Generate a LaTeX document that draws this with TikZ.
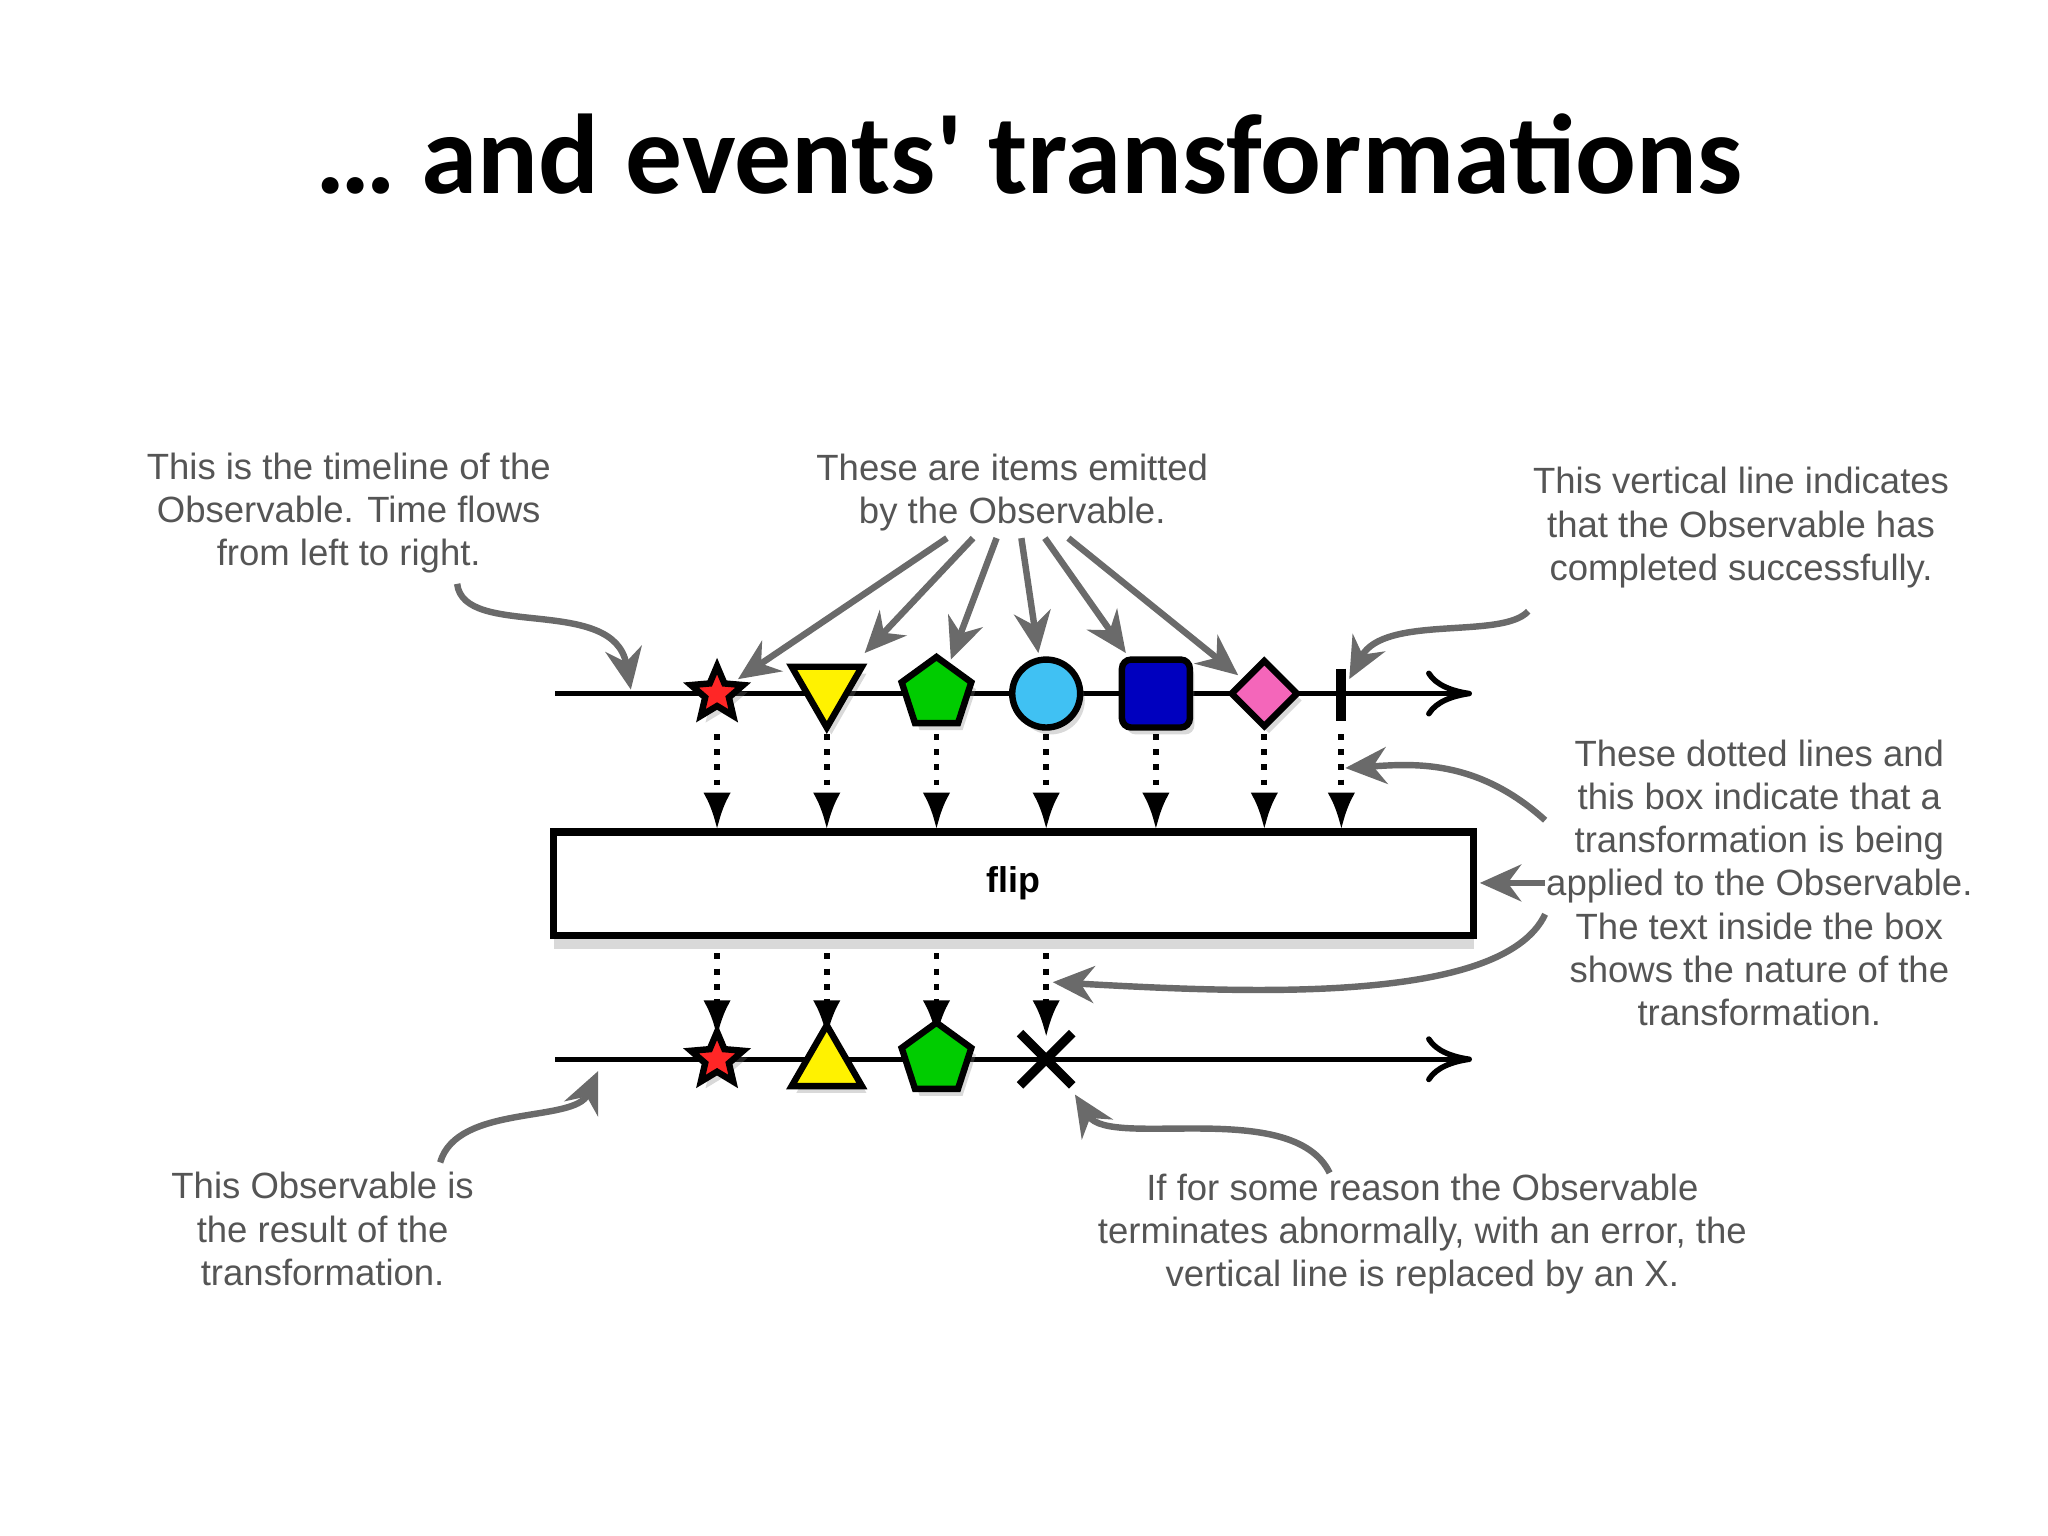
\documentclass[tikz,border=0pt]{standalone}
\usepackage{fontspec}
\setmainfont{Liberation Sans}
\newfontfamily\titlefont{Carlito}
\usetikzlibrary{shapes.geometric,arrows.meta,shadows}
\definecolor{txt}{HTML}{555555}
\definecolor{arr}{HTML}{6A6A6A}
\tikzset{
 note/.style={text=txt,align=center,font=\fontsize{7.95pt}{9.4pt}\selectfont},
 garrow/.style={draw=arr,line width=1.4pt,-{Stealth[length=9pt,width=8pt]}},
 dotarrow/.style={draw=black,line width=1.3pt,dotted,-{Latex[length=8pt,width=6pt]}},
 tl/.style={draw=black,line width=1.2pt,-{To[length=10pt,width=10pt]}},
 item/.style={draw=black,line width=1.4pt,drop shadow={opacity=.3,shadow xshift=1pt,shadow yshift=-1.5pt},inner sep=0pt},
}
\begin{document}
\begin{tikzpicture}[x=0.01cm,y=-0.01cm]
\useasboundingbox (0,0) rectangle (1568,1176);
\node (title) at (788,118) {\titlefont\bfseries\fontsize{24.7pt}{30pt}\selectfont … and events' transformations};
% top timeline
\coordinate (t0) at (425,531); \coordinate (t1) at (1127,531);
\draw[tl] (t0) -- (t1);
\node[item,star,star points=5,star point ratio=2.2,minimum size=0.42cm,fill=red!85] (s1) at (549,531) {};
\node[item,regular polygon,regular polygon sides=3,shape border rotate=180,minimum size=0.62cm,fill=yellow] (s2) at (633,526) {};
\node[item,regular polygon,regular polygon sides=5,minimum size=0.56cm,fill=green!80!black] (s3) at (717,531) {};
\node[item,circle,minimum size=0.52cm,fill=cyan!75!white] (s4) at (801,531) {};
\node[item,rectangle,minimum size=0.52cm,fill=blue!75!black,rounded corners=2pt] (s5) at (885,531) {};
\node[item,diamond,minimum size=0.52cm,fill=magenta!60!white] (s6) at (968,531) {};
\coordinate (s7) at (1027,531);
\draw[line width=2.2pt] (1027,512) -- (1027,552);
% box
\node[draw=black,line width=1.6pt,fill=white,minimum width=7.04cm,minimum height=0.79cm,drop shadow={opacity=.3,shadow xshift=0pt,shadow yshift=-3pt},font=\bfseries\fontsize{7.8pt}{9pt}\selectfont] (box) at (776,676.5) {flip};
\foreach \x in {549,633,717,801,885,968,1027}{\draw[dotarrow] (\x,562) -- (\x,635);}
\foreach \x in {549,633,717,801}{\draw[dotarrow] (\x,730) -- (\x,794);}
% bottom timeline
\coordinate (b0) at (425,811); \coordinate (b1) at (1127,811);
\draw[tl] (b0) -- (b1);
\node[item,star,star points=5,star point ratio=2.2,minimum size=0.42cm,fill=red!85] (r1) at (549,811) {};
\node[item,regular polygon,regular polygon sides=3,minimum size=0.62cm,fill=yellow] (r2) at (633,816) {};
\node[item,regular polygon,regular polygon sides=5,minimum size=0.56cm,fill=green!80!black] (r3) at (717,811) {};
\coordinate (r4) at (801,811);
\draw[line width=2pt] (781,791) -- (821,831) (781,831) -- (821,791);
% notes
\node[note] (n1) at (267,393) {This is the timeline of the\\Observable. Time flows\\from left to right.};
\node[note] (n2) at (775,377) {These are items emitted\\by the Observable.};
\node[note] (n3) at (1333,404) {This vertical line indicates\\that the Observable has\\completed successfully.};
\node[note] (n4) at (1347,676) {These dotted lines and\\this box indicate that a\\transformation is being\\applied to the Observable.\\The text inside the box\\shows the nature of the\\transformation.};
\node[note] (n5) at (247,941) {This Observable is\\the result of the\\transformation.};
\node[note] (n6) at (1089,945) {If for some reason the Observable\\terminates abnormally, with an error, the\\vertical line is replaced by an X.};
% gray arrows
\draw[garrow] (350,447) .. controls (355,490) and (470,455) .. (483,528);
\draw[garrow] (725,412) -- (565,520);
\draw[garrow] (745,412) -- (662,500);
\draw[garrow] (763,412) -- (728,505);
\draw[garrow] (782,412) -- (795,500);
\draw[garrow] (800,412) -- (862,500);
\draw[garrow] (818,412) -- (948,517);
\draw[garrow] (1170,468) .. controls (1150,490) and (1060,470) .. (1033,520);
\draw[garrow] (1183,628) .. controls (1130,580) and (1080,585) .. (1030,588);
\draw[garrow] (1183,676) -- (1133,676);
\draw[garrow] (1183,700) .. controls (1150,770) and (950,760) .. (806,752);
\draw[garrow] (337,890) .. controls (350,845) and (440,860) .. (458,820);
\draw[garrow] (1018,898) .. controls (990,840) and (850,880) .. (823,838);
\end{tikzpicture}
\end{document}
